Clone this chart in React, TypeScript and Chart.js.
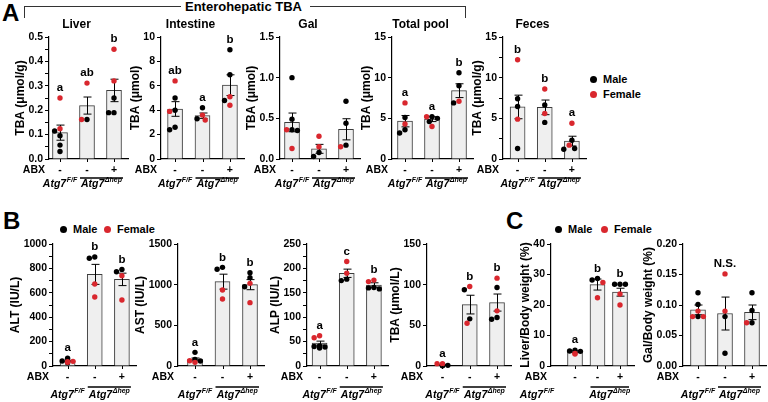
import React, { useEffect, useRef } from 'react';
import { Chart, registerables } from 'chart.js';

Chart.register(...registerables);

const FONT = '"Liberation Sans", Arial, Helvetica, sans-serif';
const RED = '#d9272e';
const BLACK = '#000000';

// ---------- shared labels ----------
const ABX_SIGNS = ['-', '-', '+'];
const GENO_BASE = 'Atg7';
const GENO_SUP = ['F/F', 'Δhep'];

// ---------- Panel A : Enterohepatic TBA ----------
const LIVER_MEAN = [0.108, 0.219, 0.281];
const LIVER_SEM = [0.031, 0.035, 0.046];
const LIVER_MALE = [[0.115, 0.095, 0.057, 0.031], [0.162], [0.25, 0.19, 0.19]];
const LIVER_FEMALE = [[0.25, 0.124], [0.311, 0.162], [0.45, 0.32]];
const LIVER_LETTERS = ['a', 'ab', 'b'];

const INTESTINE_MEAN = [4.1, 3.55, 6.05];
const INTESTINE_SEM = [0.6, 0.22, 0.85];
const INTESTINE_MALE = [[5.0, 4.0, 2.6, 2.4], [4.2, 3.3], [8.96, 6.9, 4.8]];
const INTESTINE_FEMALE = [[6.4, 3.9], [3.6, 3.2], [5.1, 4.4]];
const INTESTINE_LETTERS = ['ab', 'a', 'b'];

const GAL_MEAN = [0.45, 0.125, 0.365];
const GAL_SEM = [0.115, 0.055, 0.13];
const GAL_MALE = [[1.0, 0.49, 0.36, 0.35], [0.08, 0.03], [0.71, 0.44, 0.17]];
const GAL_FEMALE = [[0.36, 0.13], [0.28, 0.15], [0.15]];
const GAL_LETTERS = ['', '', ''];

const TOTAL_MEAN = [4.65, 4.9, 8.4];
const TOTAL_SEM = [0.7, 0.3, 0.85];
const TOTAL_MALE = [[5.1, 3.6, 3.2], [5.2, 5.0, 4.6], [10.6, 9.0, 6.9]];
const TOTAL_FEMALE = [[6.9, 4.3], [5.2, 4.0], [7.1]];
const TOTAL_LETTERS = ['a', 'a', 'b'];

const FECES_MEAN = [6.4, 6.35, 2.2];
const FECES_SEM = [1.45, 0.9, 0.6];
const FECES_MALE = [[7.4, 6.45, 1.3], [6.65, 4.5], [2.3, 1.3, 1.2]];
const FECES_FEMALE = [[12.2, 4.9], [8.6, 5.6], [4.4, 1.7]];
const FECES_LETTERS = ['b', 'b', 'a'];

// ---------- Panel B : serum ----------
const ALT_MEAN = [41, 751, 710];
const ALT_SEM = [6, 82, 51];
const ALT_MALE = [[63, 41, 27], [893, 883], [792, 773]];
const ALT_FEMALE = [[35, 30, 38], [672, 566], [740, 541]];
const ALT_LETTERS = ['a', 'b', 'b'];

const AST_MEAN = [80, 1037, 1000];
const AST_SEM = [18, 92, 62];
const AST_MALE = [[168, 82, 61], [1213, 1189], [1148, 1086, 975]];
const AST_FEMALE = [[65, 45], [934, 824], [1016, 779]];
const AST_LETTERS = ['a', 'b', 'b'];

const ALP_MEAN = [47, 190, 166];
const ALP_SEM = [4, 8.5, 4.5];
const ALP_MALE = [[41, 39, 37, 40], [178, 175], [161, 158, 160]];
const ALP_FEMALE = [[62, 58], [214, 190], [176, 173]];
const ALP_LETTERS = ['a', 'c', 'b'];

const SERUM_TBA_MEAN = [1.5, 75.5, 78];
const SERUM_TBA_SEM = [0.6, 11.5, 10.5];
const SERUM_TBA_MALE = [[0.5, 0.3, 0.8], [93.7, 58], [96.6, 59.6, 57.5]];
const SERUM_TBA_FEMALE = [[2.9, 2.9], [97.8, 52.6], [108, 67.8]];
const SERUM_TBA_LETTERS = ['a', 'b', 'b'];

// ---------- Panel C : organ weights ----------
const LIVER_BW_MEAN = [4.7, 26.7, 24.2];
const LIVER_BW_SEM = [0.3, 1.8, 1.3];
const LIVER_BW_MALE = [[5.2, 4.9, 4.8], [28.7, 28.2], [26.8, 26.8, 26.8]];
const LIVER_BW_FEMALE = [[4.15, 3.9], [27.4, 22.4], [23.6, 20]];
const LIVER_BW_LETTERS = ['a', 'b', 'b'];

const GAL_BW_MEAN = [0.092, 0.086, 0.088];
const GAL_BW_SEM = [0.008, 0.027, 0.012];
const GAL_BW_MALE = [[0.12, 0.101, 0.081], [0.081, 0.021], [0.12, 0.091, 0.071]];
const GAL_BW_FEMALE = [[0.09, 0.081, 0.081], [0.151, 0.09], [0.071]];
const GAL_BW_LETTERS = ['', 'N.S.', ''];

type Cfg = {
  id: string;
  axis: number; bar1: number; spacing: number; top: number; bottom: number;
  yMax: number; major: number; minor: boolean; dec: number;
  title?: string; yTitle: string;
  mean: number[]; sem: number[]; male: number[][]; female: number[][]; letters: string[];
  lineDy: number; labelDy: number; genoShift?: number;
};

const ROW_A = { top: 37, bottom: 159, lineDy: 19, labelDy: 25 };
const ROW_B = { top: 244, bottom: 366, lineDy: 21, labelDy: 29 };

const CHARTS: Cfg[] = [
  { id: 'liver', ...ROW_A, axis: 49, bar1: 60, spacing: 27, yMax: 0.5, major: 0.1, minor: true, dec: 1,
    title: 'Liver', yTitle: 'TBA (μmol/g)', mean: LIVER_MEAN, sem: LIVER_SEM, male: LIVER_MALE, female: LIVER_FEMALE, letters: LIVER_LETTERS },
  { id: 'intestine', ...ROW_A, axis: 161, bar1: 175, spacing: 27.3, yMax: 10, major: 2, minor: false, dec: 0,
    title: 'Intestine', yTitle: 'TBA (μmol)', mean: INTESTINE_MEAN, sem: INTESTINE_SEM, male: INTESTINE_MALE, female: INTESTINE_FEMALE, letters: INTESTINE_LETTERS },
  { id: 'gal', ...ROW_A, axis: 280, bar1: 292, spacing: 27, yMax: 1.5, major: 0.5, minor: false, dec: 1,
    title: 'Gal', yTitle: 'TBA (μmol)', mean: GAL_MEAN, sem: GAL_SEM, male: GAL_MALE, female: GAL_FEMALE, letters: GAL_LETTERS },
  { id: 'total', ...ROW_A, axis: 392, bar1: 405, spacing: 27, yMax: 15, major: 5, minor: false, dec: 0,
    title: 'Total pool', yTitle: 'TBA (μmol)', mean: TOTAL_MEAN, sem: TOTAL_SEM, male: TOTAL_MALE, female: TOTAL_FEMALE, letters: TOTAL_LETTERS },
  { id: 'feces', ...ROW_A, axis: 503, bar1: 517.5, spacing: 27, yMax: 15, major: 5, minor: true, dec: 0,
    title: 'Feces', yTitle: 'TBA (μmol/g)', mean: FECES_MEAN, sem: FECES_SEM, male: FECES_MALE, female: FECES_FEMALE, letters: FECES_LETTERS },
  { id: 'alt', ...ROW_B, axis: 53, bar1: 67.5, spacing: 27, yMax: 1000, major: 200, minor: true, dec: 0,
    yTitle: 'ALT (IU/L)', mean: ALT_MEAN, sem: ALT_SEM, male: ALT_MALE, female: ALT_FEMALE, letters: ALT_LETTERS },
  { id: 'ast', ...ROW_B, axis: 178, bar1: 195, spacing: 27.5, yMax: 1500, major: 500, minor: false, dec: 0,
    yTitle: 'AST (IU/L)', mean: AST_MEAN, sem: AST_SEM, male: AST_MALE, female: AST_FEMALE, letters: AST_LETTERS },
  { id: 'alp', ...ROW_B, axis: 307, bar1: 319.5, spacing: 27, yMax: 250, major: 50, minor: true, dec: 0,
    yTitle: 'ALP (IU/L)', mean: ALP_MEAN, sem: ALP_SEM, male: ALP_MALE, female: ALP_FEMALE, letters: ALP_LETTERS },
  { id: 'stba', ...ROW_B, axis: 426.5, bar1: 442, spacing: 27.3, yMax: 150, major: 50, minor: false, dec: 0,
    yTitle: 'TBA (μmol/L)', mean: SERUM_TBA_MEAN, sem: SERUM_TBA_SEM, male: SERUM_TBA_MALE, female: SERUM_TBA_FEMALE, letters: SERUM_TBA_LETTERS },
  { id: 'lbw', ...ROW_B, axis: 551, bar1: 575, spacing: 22.5, yMax: 40, major: 10, minor: false, dec: 0, genoShift: -38,
    yTitle: 'Liver/Body weight (%)', mean: LIVER_BW_MEAN, sem: LIVER_BW_SEM, male: LIVER_BW_MALE, female: LIVER_BW_FEMALE, letters: LIVER_BW_LETTERS },
  { id: 'gbw', ...ROW_B, axis: 683, bar1: 698, spacing: 27, yMax: 0.2, major: 0.05, minor: false, dec: 2,
    yTitle: 'Gal/Body weight (%)', mean: GAL_BW_MEAN, sem: GAL_BW_SEM, male: GAL_BW_MALE, female: GAL_BW_FEMALE, letters: GAL_BW_LETTERS },
];

const LEFT_PAD = 50;
const TOP_PAD = 32;
const BOTTOM_PAD = 40;
const RIGHT_PAD = 4;
const END_GAP = 14;

function placePoints(cfg: Cfg) {
  const plotH = cfg.bottom - cfg.top;
  const male: { x: number; y: number }[] = [];
  const female: { x: number; y: number }[] = [];
  for (let g = 0; g < 3; g++) {
    const pts = [
      ...cfg.male[g].map((v) => ({ v, s: 0 })),
      ...cfg.female[g].map((v) => ({ v, s: 1 })),
    ].sort((a, b) => b.v - a.v);
    const placed: { x: number; y: number }[] = [];
    for (const p of pts) {
      const py = (p.v / cfg.yMax) * plotH;
      let chosen = 0;
      for (const c of [0, -1, 1, -2, 2, -3, 3]) {
        const px = c * 2.7;
        if (placed.every((q) => Math.hypot(q.x - px, q.y - py) >= 5.0)) { chosen = px; break; }
      }
      placed.push({ x: chosen, y: py });
      (p.s ? female : male).push({ x: g + chosen / cfg.spacing, y: p.v });
    }
  }
  return { male, female };
}

function drawGeno(ctx: CanvasRenderingContext2D, cx: number, cy: number, sup: string) {
  const mainFont = `italic bold 10.5px ${FONT}`;
  const supFont = `italic bold 7px ${FONT}`;
  ctx.font = mainFont;
  const w1 = ctx.measureText(GENO_BASE).width;
  ctx.font = supFont;
  const w2 = ctx.measureText(sup).width;
  const x0 = cx - (w1 + w2 + 0.5) / 2;
  ctx.textAlign = 'left';
  ctx.textBaseline = 'middle';
  ctx.font = mainFont;
  ctx.fillText(GENO_BASE, x0, cy);
  ctx.font = supFont;
  ctx.fillText(sup, x0 + w1 + 0.5, cy - 3.5);
}

function makePlugin(cfg: Cfg) {
  return {
    id: 'decor_' + cfg.id,
    afterDatasetDraw(chart: any, args: any) {
      if (args.index !== 0) return;
      const xs = chart.scales.x, ys = chart.scales.y;
      const ctx: CanvasRenderingContext2D = chart.ctx;
      ctx.save();
      ctx.strokeStyle = '#000';
      ctx.lineWidth = 1;
      cfg.mean.forEach((m, i) => {
        const px = Math.round(xs.getPixelForValue(i)) + 0.5;
        const t = ys.getPixelForValue(m + cfg.sem[i]);
        const b = ys.getPixelForValue(Math.max(0, m - cfg.sem[i]));
        ctx.beginPath();
        ctx.moveTo(px, t); ctx.lineTo(px, b);
        ctx.moveTo(px - 4, t); ctx.lineTo(px + 4, t);
        ctx.moveTo(px - 4, b); ctx.lineTo(px + 4, b);
        ctx.stroke();
      });
      ctx.restore();
    },
    afterDraw(chart: any) {
      const xs = chart.scales.x, ys = chart.scales.y;
      const ctx: CanvasRenderingContext2D = chart.ctx;
      const area = chart.chartArea;
      const bx = [0, 1, 2].map((i) => xs.getPixelForValue(i));
      ctx.save();
      ctx.fillStyle = '#000';
      ctx.strokeStyle = '#000';

      // x tick marks
      ctx.lineWidth = 1;
      ctx.beginPath();
      bx.forEach((x) => { const px = Math.round(x) + 0.5; ctx.moveTo(px, area.bottom); ctx.lineTo(px, area.bottom + 3); });
      ctx.stroke();

      // significance letters
      ctx.font = `bold 11.5px ${FONT}`;
      ctx.textAlign = 'center';
      ctx.textBaseline = 'middle';
      cfg.letters.forEach((l, i) => {
        if (!l) return;
        const top = Math.max(cfg.mean[i] + cfg.sem[i], ...cfg.male[i], ...cfg.female[i]);
        ctx.fillText(l, bx[i], ys.getPixelForValue(top) - 10);
      });

      // chart title
      if (cfg.title) {
        ctx.font = `bold 12px ${FONT}`;
        ctx.fillText(cfg.title, (area.left + area.right) / 2 - 12, area.top - 12);
      }

      // y title
      ctx.font = `bold 10.5px ${FONT}`;
      const lw = ctx.measureText(cfg.yMax.toFixed(cfg.dec)).width;
      ctx.save();
      ctx.translate(area.left - lw - 14, (area.top + area.bottom) / 2);
      ctx.rotate(-Math.PI / 2);
      ctx.font = `bold 12px ${FONT}`;
      ctx.fillText(cfg.yTitle, 0, 0);
      ctx.restore();

      // ABX row
      ctx.font = `bold 10.5px ${FONT}`;
      ctx.textAlign = 'right';
      ctx.fillText('ABX', area.left - 4, area.bottom + 11);
      ctx.textAlign = 'center';
      ABX_SIGNS.forEach((s, i) => ctx.fillText(s, bx[i], area.bottom + 11));

      // genotype group line + labels
      ctx.lineWidth = 1.4;
      ctx.beginPath();
      ctx.moveTo(bx[1] - 7, area.bottom + cfg.lineDy);
      ctx.lineTo(bx[2] + 9, area.bottom + cfg.lineDy);
      ctx.stroke();
      drawGeno(ctx, bx[0] + (cfg.genoShift || 0), area.bottom + cfg.labelDy, GENO_SUP[0]);
      drawGeno(ctx, (bx[1] + bx[2]) / 2 + 1, area.bottom + cfg.labelDy, GENO_SUP[1]);
      ctx.restore();
    },
  };
}

function MiniChart({ cfg }: { cfg: Cfg }) {
  const ref = useRef<HTMLCanvasElement>(null);
  const plotRight = cfg.bar1 + 2 * cfg.spacing + END_GAP;
  const w = Math.round(LEFT_PAD + (plotRight - cfg.axis) + RIGHT_PAD);
  const h = TOP_PAD + (cfg.bottom - cfg.top) + BOTTOM_PAD;

  useEffect(() => {
    if (!ref.current) return;
    const pts = placePoints(cfg);
    const step = cfg.minor ? cfg.major / 2 : cfg.major;
    const chart = new Chart(ref.current, {
      type: 'bar',
      data: {
        datasets: [
          {
            type: 'bar',
            data: cfg.mean.map((m, i) => ({ x: i, y: m })),
            backgroundColor: '#efefef',
            borderColor: '#3c3c3c',
            borderWidth: 1,
            barThickness: 15,
            order: 2,
          } as any,
          {
            type: 'scatter',
            data: pts.male,
            pointRadius: 2.7,
            pointBackgroundColor: BLACK,
            pointBorderWidth: 0,
            clip: false,
            order: 1,
          } as any,
          {
            type: 'scatter',
            data: pts.female,
            pointRadius: 2.7,
            pointBackgroundColor: RED,
            pointBorderWidth: 0,
            clip: false,
            order: 0,
          } as any,
        ],
      },
      options: {
        animation: false,
        responsive: false,
        events: [],
        layout: { padding: { left: 0, top: TOP_PAD, right: RIGHT_PAD, bottom: 0 } },
        plugins: { legend: { display: false }, tooltip: { enabled: false } },
        scales: {
          x: {
            type: 'linear',
            offset: false,
            bounds: 'data',
            grace: 0,
            min: -(cfg.bar1 - cfg.axis) / cfg.spacing,
            max: 2 + END_GAP / cfg.spacing,
            grid: { display: false, offset: false },
            ticks: { display: false },
            border: { display: true, color: '#000', width: 1.2 },
            afterFit: (s: any) => { s.height = BOTTOM_PAD; },
          },
          y: {
            type: 'linear',
            min: 0,
            max: cfg.yMax,
            ticks: {
              stepSize: step,
              autoSkip: false,
              maxTicksLimit: 50,
              color: '#000',
              padding: 2,
              font: { family: FONT, size: 10.5, weight: 'bold' },
              callback: (v: any) => {
                const r = Number(v) / cfg.major;
                return Math.abs(r - Math.round(r)) < 1e-6 ? Number(v).toFixed(cfg.dec) : '';
              },
            },
            grid: { display: true, drawOnChartArea: false, drawTicks: true, tickLength: 4, color: '#000', lineWidth: 1 },
            border: { display: true, color: '#000', width: 1.2 },
            afterFit: (s: any) => { s.width = LEFT_PAD; },
          },
        },
      } as any,
      plugins: [makePlugin(cfg)],
    });
    return () => chart.destroy();
  }, [cfg]);

  return (
    <canvas
      ref={ref}
      width={w}
      height={h}
      style={{ position: 'absolute', left: cfg.axis - LEFT_PAD, top: cfg.top - TOP_PAD, width: w, height: h }}
    />
  );
}

const textBase: React.CSSProperties = { position: 'absolute', fontFamily: FONT, fontWeight: 'bold', color: '#000', whiteSpace: 'nowrap' };

function LegendItem({ x, y, color, label }: { x: number; y: number; color: string; label: string }) {
  return (
    <>
      <div style={{ position: 'absolute', left: x - 3.5, top: y - 3.5, width: 7, height: 7, borderRadius: '50%', background: color }} />
      <div style={{ ...textBase, left: x + 10, top: y - 7, fontSize: 11, lineHeight: '14px' }}>{label}</div>
    </>
  );
}

export default function App() {
  return (
    <div style={{ position: 'fixed', left: 0, top: 0, width: 768, height: 402, background: '#fff', overflow: 'hidden' }}>
      {/* panel letters */}
      <div style={{ ...textBase, left: 2, top: 0, fontSize: 24, lineHeight: '26px' }}>A</div>
      <div style={{ ...textBase, left: 3, top: 208, fontSize: 24, lineHeight: '26px' }}>B</div>
      <div style={{ ...textBase, left: 506, top: 208, fontSize: 24, lineHeight: '26px' }}>C</div>

      {/* enterohepatic bracket */}
      <div style={{ position: 'absolute', left: 24, top: 6, width: 156, height: 11, borderTop: '1.3px solid #333', borderLeft: '1.3px solid #333' }} />
      <div style={{ position: 'absolute', left: 310, top: 6, width: 155, height: 11, borderTop: '1.3px solid #333', borderRight: '1.3px solid #333' }} />
      <div style={{ ...textBase, left: 185, top: 0, fontSize: 13, lineHeight: '14px' }}>Enterohepatic TBA</div>

      {/* legends */}
      <LegendItem x={593} y={79} color={BLACK} label="Male" />
      <LegendItem x={593} y={94} color={RED} label="Female" />
      <LegendItem x={63} y={229} color={BLACK} label="Male" />
      <LegendItem x={107} y={229} color={RED} label="Female" />
      <LegendItem x={558} y={229} color={BLACK} label="Male" />
      <LegendItem x={604} y={229} color={RED} label="Female" />

      {CHARTS.map((c) => <MiniChart key={c.id} cfg={c} />)}
    </div>
  );
}
